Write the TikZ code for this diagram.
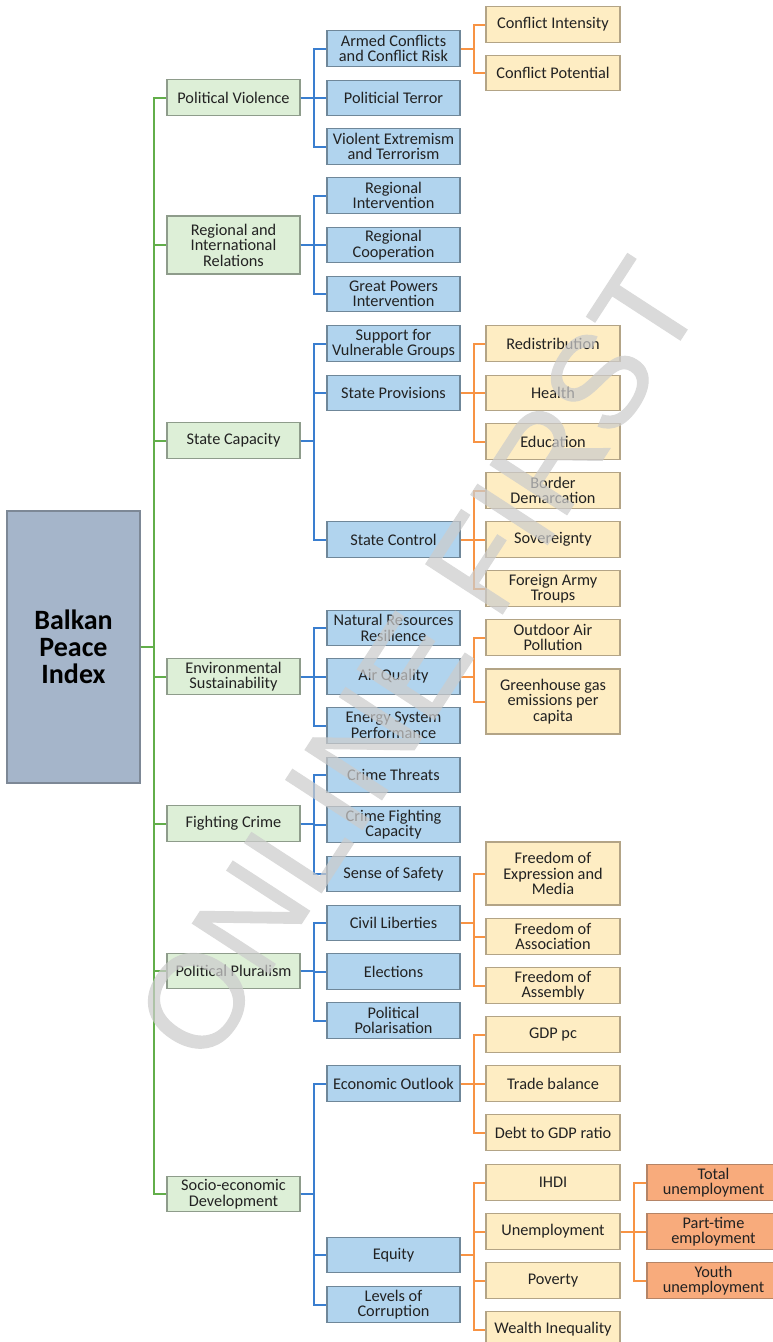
\documentclass[tikz,border=0pt]{standalone}
\usepackage{fontspec}
\setmainfont{Carlito}
\newfontfamily\wmfont[FakeBold=0.8]{Liberation Sans}
\definecolor{rootfill}{HTML}{A5B5CA}
\definecolor{rootdraw}{HTML}{7D8896}
\definecolor{grfill}{HTML}{DDEFD7}
\definecolor{grdraw}{HTML}{8E9C8B}
\definecolor{blfill}{HTML}{B1D4EE}
\definecolor{bldraw}{HTML}{6F8799}
\definecolor{yefill}{HTML}{FEEDC3}
\definecolor{yedraw}{HTML}{B3A486}
\definecolor{orfill}{HTML}{F8AB7C}
\definecolor{ordraw}{HTML}{B58466}
\definecolor{glinec}{HTML}{62AE4A}
\definecolor{blinec}{HTML}{3A7ECF}
\definecolor{olinec}{HTML}{F79344}
\definecolor{txt}{HTML}{222222}
\begin{document}
\begin{tikzpicture}[x=1pt,y=-1pt,
  bx/.style={line width=1.2pt, minimum width=133pt, minimum height=35.5pt, inner sep=1pt, align=center, text=txt, font=\fontsize{16.3}{15.5}\selectfont},
  gbox/.style={bx, draw=grdraw, fill=grfill},
  bbox/.style={bx, draw=bldraw, fill=blfill},
  ybox/.style={bx, draw=yedraw, fill=yefill, minimum width=134pt},
  obox/.style={bx, draw=ordraw, fill=orfill},
  gcon/.style={draw=glinec, line width=2pt},
  bcon/.style={draw=blinec, line width=2pt},
  ocon/.style={draw=olinec, line width=2pt}]
\useasboundingbox[fill=white] (0,0) rectangle (772,1342);

% root
\node[draw=rootdraw, fill=rootfill, line width=1.2pt, minimum width=133pt, minimum height=272pt, align=center, font=\fontsize{28}{27}\selectfont\bfseries] (root) at (73.5,647) {Balkan\\Peace\\Index};

% level 1
\node[gbox] (pv) at (233.5,97.5) {Political Violence};
\node[gbox, minimum height=58pt] (rir) at (233.5,245) {Regional and\\International\\Relations};
\node[gbox] (sc) at (233.5,440.5) {State Capacity};
\node[gbox] (es) at (233.5,676.5) {Environmental\\Sustainability};
\node[gbox] (fc) at (233.5,823.5) {Fighting Crime};
\node[gbox] (pp) at (233.5,971) {Political Pluralism};
\node[gbox] (sed) at (233.5,1194) {Socio-economic\\Development};

% level 2
\node[bbox] (acr) at (393.5,48.5) {Armed Conflicts\\and Conflict Risk};
\node[bbox] (pt) at (393.5,98) {Politicial Terror};
\node[bbox] (vet) at (393.5,146.5) {Violent Extremism\\and Terrorism};
\node[bbox] (ri) at (393.5,195.5) {Regional\\Intervention};
\node[bbox] (rc) at (393.5,245) {Regional\\Cooperation};
\node[bbox] (gpi) at (393.5,294) {Great Powers\\Intervention};
\node[bbox] (svg) at (393.5,343.5) {Support for\\Vulnerable Groups};
\node[bbox] (sp) at (393.5,393) {State Provisions};
\node[bbox] (scon) at (393.5,539.5) {State Control};
\node[bbox] (nrr) at (393.5,628) {Natural Resources\\Resilience};
\node[bbox] (aq) at (393.5,676.5) {Air Quality};
\node[bbox] (esp) at (393.5,725.5) {Energy System\\Performance};
\node[bbox] (ct) at (393.5,775) {Crime Threats};
\node[bbox] (cfc) at (393.5,824.5) {Crime Fighting\\Capacity};
\node[bbox] (sos) at (393.5,874) {Sense of Safety};
\node[bbox] (cl) at (393.5,923) {Civil Liberties};
\node[bbox] (el) at (393.5,971.5) {Elections};
\node[bbox] (pol) at (393.5,1020.5) {Political\\Polarisation};
\node[bbox] (eo) at (393.5,1083.5) {Economic Outlook};
\node[bbox] (eq) at (393.5,1255) {Equity};
\node[bbox] (loc) at (393.5,1304.5) {Levels of\\Corruption};

% level 3
\node[ybox] (ci) at (553,24.5) {Conflict Intensity};
\node[ybox] (cp) at (553,73) {Conflict Potential};
\node[ybox] (red) at (553,343.5) {Redistribution};
\node[ybox] (hea) at (553,393) {Health};
\node[ybox] (edu) at (553,441.5) {Education};
\node[ybox] (bd) at (553,490.5) {Border\\Demarcation};
\node[ybox] (sov) at (553,539.5) {Sovereignty};
\node[ybox] (fat) at (553,588.5) {Foreign Army\\Troups};
\node[ybox] (oap) at (553,637.5) {Outdoor Air\\Pollution};
\node[ybox, minimum height=65pt] (ghg) at (553,701.5) {Greenhouse gas\\emissions per\\capita};
\node[ybox, minimum height=63pt] (fem) at (553,873.5) {Freedom of\\Expression and\\Media};
\node[ybox] (fa) at (553,936.5) {Freedom of\\Association};
\node[ybox] (fas) at (553,985.5) {Freedom of\\Assembly};
\node[ybox] (gdp) at (553,1034.5) {GDP pc};
\node[ybox] (tb) at (553,1083.5) {Trade balance};
\node[ybox] (dgr) at (553,1132.5) {Debt to GDP ratio};
\node[ybox] (ihdi) at (553,1182.5) {IHDI};
\node[ybox] (une) at (553,1231.5) {Unemployment};
\node[ybox] (pov) at (553,1280.5) {Poverty};
\node[ybox] (wi) at (553,1329.5) {Wealth Inequality};

% level 4
\node[obox] (tu) at (713.5,1182.5) {Total\\unemployment};
\node[obox] (pte) at (713.5,1231.5) {Part-time\\employment};
\node[obox] (yu) at (713.5,1280.5) {Youth\\unemployment};

% connectors
\foreach \c in {pv,rir,sc,es,fc,pp,sed}
  \draw[gcon] (root.east) -- ++(13,0) |- (\c.west);
\foreach \p/\c in {pv/acr,pv/pt,pv/vet,rir/ri,rir/rc,rir/gpi,sc/svg,sc/sp,sc/scon,
  es/nrr,es/aq,es/esp,fc/ct,fc/cfc,fc/sos,pp/cl,pp/el,pp/pol,sed/eo,sed/eq,sed/loc}
  \draw[bcon] (\p.east) -- ++(13,0) |- (\c.west);
\foreach \p/\c in {acr/ci,acr/cp,sp/red,sp/hea,sp/edu,scon/bd,scon/sov,scon/fat,
  aq/oap,aq/ghg,cl/fem,cl/fa,cl/fas,eo/gdp,eo/tb,eo/dgr,eq/ihdi,eq/une,eq/pov,eq/wi,
  une/tu,une/pte,une/yu}
  \draw[ocon] (\p.east) -- ++(13,0) |- (\c.west);

% watermark
\begin{scope}[transparency group, opacity=0.72]
\node[rotate=57, text=black!20, font=\wmfont\fontsize{133}{133}\selectfont] (wm) at (418,660) {ONLINE FIRST};
\end{scope}
\end{tikzpicture}
\end{document}
